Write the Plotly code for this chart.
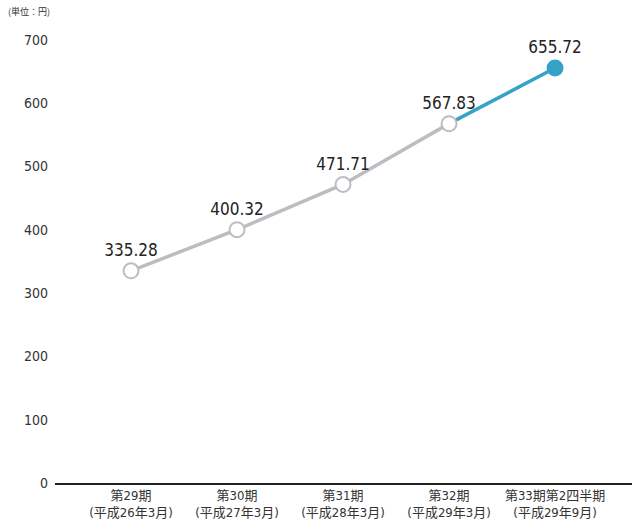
import plotly.graph_objects as go

categories = ["第29期<br>(平成26年3月)", "第30期<br>(平成27年3月)", "第31期<br>(平成28年3月)",
              "第32期<br>(平成29年3月)", "第33期第2四半期<br>(平成29年9月)"]
values = [335.28, 400.32, 471.71, 567.83, 655.72]
labels = ["335.28", "400.32", "471.71", "567.83", "655.72"]
yticks = [0, 100, 200, 300, 400, 500, 600, 700]

GRAY = "#bcbcc2"
BLUE = "#34a3c7"
NUMFONT = "DejaVu Sans Condensed, Noto Sans CJK JP, sans-serif"
JPFONT = "Noto Sans CJK JP, sans-serif"

x = list(range(len(categories)))

fig = go.Figure()
fig.add_trace(go.Scatter(x=x[:4], y=values[:4], mode="lines",
                         line=dict(color=GRAY, width=3.5), hoverinfo="skip", cliponaxis=False))
fig.add_trace(go.Scatter(x=x[3:], y=values[3:], mode="lines",
                         line=dict(color=BLUE, width=3.5), hoverinfo="skip", cliponaxis=False))
fig.add_trace(go.Scatter(x=x[:4], y=values[:4], mode="markers+text",
                         marker=dict(size=15, color="white", line=dict(color=GRAY, width=2)),
                         text=labels[:4], textposition="top center", cliponaxis=False,
                         textfont=dict(family=NUMFONT, size=17, color="#222")))
fig.add_trace(go.Scatter(x=x[4:], y=values[4:], mode="markers+text",
                         marker=dict(size=15, color=BLUE, line=dict(color=BLUE, width=2)),
                         text=labels[4:], textposition="top center", cliponaxis=False,
                         textfont=dict(family=NUMFONT, size=17, color="#222")))

fig.update_layout(
    width=632, height=521,
    margin=dict(l=55, r=0, t=40, b=38),
    paper_bgcolor="white", plot_bgcolor="white",
    showlegend=False,
    xaxis=dict(range=[-0.717, 4.726], tickmode="array", tickvals=x, ticktext=categories,
               showgrid=False, zeroline=False, showline=True, linecolor="#222", linewidth=1.5,
               ticks="", tickangle=0, automargin=False,
               tickfont=dict(family=NUMFONT, size=13, color="#333")),
    yaxis=dict(range=[0, 700], tickmode="array", tickvals=yticks,
               showgrid=False, zeroline=False, showline=False, ticks="", automargin=False,
               tickfont=dict(family=NUMFONT, size=14, color="#333"), ticklabelstandoff=6),
    annotations=[dict(text="(単位：円)", x=-0.085, y=1.065, xref="paper", yref="paper",
                      xanchor="left", yanchor="middle", showarrow=False,
                      font=dict(family=JPFONT, size=9, color="#333"))],
)
fig.write_html("out.html", config={"displayModeBar": False},
               post_script="document.body.style.margin='0';document.body.style.overflow='hidden';")
